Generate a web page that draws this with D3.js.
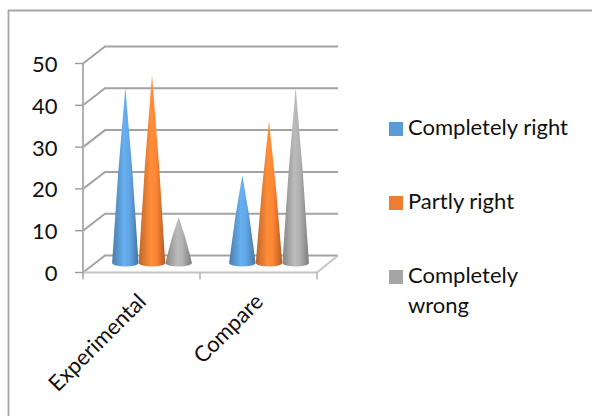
<!DOCTYPE html>
<html>
<head>
<meta charset="utf-8">
<script src="https://cdnjs.cloudflare.com/ajax/libs/d3/7.8.5/d3.min.js"></script>
<style>
  html, body { margin: 0; padding: 0; background: #fff; }
  svg { display: block; }
  text { font-family: Lato, "Open Sans", sans-serif; fill: #111; }
</style>
</head>
<body>
<div id="chart"></div>
<script>
// chart data
var categories = ["Experimental", "Compare"];
var seriesNames = ["Completely right", "Partly right", "Completely wrong"];
var seriesColors = ["#5b9bd5", "#ed7d31", "#a5a5a5"];
var experimentalValues = [42, 45, 11];
var compareValues = [21, 34, 42];
var valueTicks = [0, 10, 20, 30, 40, 50];

var allValues = [experimentalValues, compareValues];

var svg = d3.select("#chart").append("svg")
    .attr("width", 592)
    .attr("height", 416);

var defs = svg.append("defs");

// the reference is a soft, slightly blurred raster
defs.append("filter").attr("id", "soft")
    .append("feGaussianBlur").attr("stdDeviation", 0.75);

// cone shading runs left to right
seriesColors.forEach(function (c, i) {
    var base = d3.color(c);
    var grad = defs.append("linearGradient").attr("id", "cone" + i);
    grad.append("stop").attr("offset", "0%").attr("stop-color", base.darker(0.6));
    grad.append("stop").attr("offset", "45%").attr("stop-color", base.brighter(0.35));
    grad.append("stop").attr("offset", "65%").attr("stop-color", base.brighter(0.2));
    grad.append("stop").attr("offset", "100%").attr("stop-color", base.darker(0.8));
});

// outer frame, only top and left edges show
svg.append("path")
    .attr("d", "M8.5,416V10.5H592")
    .attr("fill", "none")
    .attr("stroke", "#a6a6a6")
    .attr("stroke-width", 1.8);

// scales: y is the front plane of the 3d box, depth shifts it back
var depthX = 22, depthY = -17;
var y = d3.scaleLinear().domain([0, 50]).range([272.5, 63.5]);
var x = d3.scaleBand().domain(categories).range([83, 317]);
var xInner = d3.scaleBand().domain(seriesNames).range([-40, 40]);
var coneDepthX = 10.5, coneDepthY = -9.5;

var gridColor = "#a3a3a3";
var grid = svg.append("g").attr("filter", "url(#soft)");

// gridlines on the back wall with the slanted side wall part
grid.selectAll(".gridline")
    .data(valueTicks)
    .enter().append("path")
    .attr("class", "gridline")
    .attr("fill", "none")
    .attr("stroke", gridColor)
    .attr("stroke-width", 2)
    .attr("d", function (d) {
        return "M83," + y(d) + "L" + (83 + depthX) + "," + (y(d) + depthY) + "H338";
    });

// floor right edge and front edge
grid.append("path")
    .attr("fill", "none")
    .attr("stroke", "#c4c4c4")
    .attr("stroke-width", 2)
    .attr("d", "M83," + y(0) + "H317L338," + (y(0) + depthY));

// value axis
grid.append("line")
    .attr("x1", 83).attr("x2", 83)
    .attr("y1", y(50)).attr("y2", y(0) + 4)
    .attr("stroke", "#b0b0b0").attr("stroke-width", 2);

grid.selectAll(".ytick")
    .data(valueTicks)
    .enter().append("line")
    .attr("class", "ytick")
    .attr("x1", 75).attr("x2", 83)
    .attr("y1", function (d) { return y(d); })
    .attr("y2", function (d) { return y(d); })
    .attr("stroke", "#9a9a9a").attr("stroke-width", 1.4);

// category ticks
grid.selectAll(".xtick")
    .data([83, x("Compare"), x("Compare") + x.bandwidth()])
    .enter().append("line")
    .attr("class", "xtick")
    .attr("x1", function (d) { return d; })
    .attr("x2", function (d) { return d; })
    .attr("y1", y(0))
    .attr("y2", y(0) + 7)
    .attr("stroke", "#b0b0b0").attr("stroke-width", 1.4);

// cones, sides bulge a little like the reference
var ry = 3.5, halfW = 13.2, bulge = 1.5;
var cones = svg.append("g").attr("filter", "url(#soft)");
categories.forEach(function (cat, ci) {
    seriesNames.forEach(function (name, si) {
        var cx = x(cat) + x.bandwidth() / 2 + coneDepthX + xInner(name) + xInner.bandwidth() / 2;
        var baseY = y(0) + coneDepthY;
        var tipY = y(allValues[ci][si]) + coneDepthY;
        var midY = (baseY + tipY) / 2;
        cones.append("path")
            .attr("fill", "url(#cone" + si + ")")
            .attr("d", "M" + (cx - halfW) + "," + baseY
                + "Q" + (cx - halfW / 2 - bulge) + "," + midY + " " + cx + "," + tipY
                + "Q" + (cx + halfW / 2 + bulge) + "," + midY + " " + (cx + halfW) + "," + baseY
                + "A" + halfW + "," + ry + " 0 0 1 " + (cx - halfW) + "," + baseY + "Z");
    });
});

// value labels
svg.selectAll(".ylabel")
    .data(valueTicks)
    .enter().append("text")
    .attr("class", "ylabel")
    .attr("x", 57.5)
    .attr("y", function (d) { return y(d) + 8.5; })
    .attr("text-anchor", "end")
    .attr("font-size", 22)
    .text(function (d) { return d; });

// rotated category labels
svg.selectAll(".xlabel")
    .data(categories)
    .enter().append("text")
    .attr("class", "xlabel")
    .attr("text-anchor", "end")
    .attr("font-size", 22)
    .attr("transform", function (d) {
        return "translate(" + (x(d) + x.bandwidth() / 2 + 6) + ",303) rotate(-45)";
    })
    .text(function (d) { return d; });

// legend
var legendY = d3.scalePoint().domain(seriesNames).range([122, 270]);
var legend = svg.selectAll(".legend")
    .data(seriesNames)
    .enter().append("g")
    .attr("class", "legend")
    .attr("transform", function (d) { return "translate(389," + legendY(d) + ")"; });

legend.append("rect")
    .attr("x", 0).attr("y", 0)
    .attr("width", 14).attr("height", 14)
    .attr("fill", function (d, i) { return seriesColors[i]; });

legend.append("text")
    .attr("x", 19)
    .attr("y", 13)
    .attr("font-size", 22)
    .each(function (d) {
        // the last entry wraps onto two lines in the reference
        var words = d === "Completely wrong" ? d.split(" ") : [d];
        var t = d3.select(this);
        words.forEach(function (w, i) {
            t.append("tspan").attr("x", 19).attr("dy", i ? 30 : 0).text(w);
        });
    });
</script>
</body>
</html>
